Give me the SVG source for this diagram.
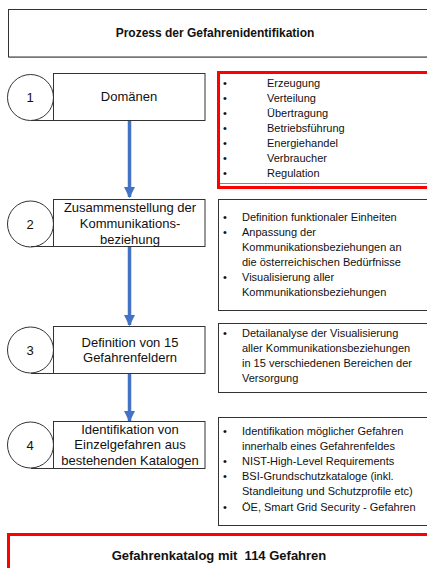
<svg xmlns="http://www.w3.org/2000/svg" width="427" height="568" viewBox="0 0 427 568">
<defs>
<marker id="ah" viewBox="0 0 10 10" refX="9" refY="5" markerWidth="3.2" markerHeight="3.2" markerUnits="strokeWidth" orient="auto">
<path d="M0,0 L10,5 L0,10 z" fill="#4472C4"/>
</marker>
<style>
text{font-family:"Liberation Sans",Arial,sans-serif;fill:#111}
.b{font-weight:bold;font-size:12px}
.n{font-size:13px}
.s{font-size:11px}
.box{fill:#fff;stroke:#333;stroke-width:1}
.red{fill:#fff;stroke:#f00;stroke-width:3}
.circ{fill:#fff;stroke:#333;stroke-width:1}
.arr{stroke:#4472C4;stroke-width:3.5;fill:none}
</style>
</defs>
<rect width="427" height="568" fill="#fff"/>
<g id="title">
<rect class="box" x="8.5" y="9.5" width="430" height="47.5"/>
<line x1="9" y1="57.5" x2="430" y2="57.5" stroke="#777" stroke-width="1"/>
<text class="b" x="215" y="37" text-anchor="middle">Prozess der Gefahrenidentifikation</text>
</g>
<g id="connectors">
<line class="arr" x1="129.5" y1="120" x2="129.5" y2="197" marker-end="url(#ah)"/>
<line class="arr" x1="129.5" y1="246" x2="129.5" y2="325" marker-end="url(#ah)"/>
<line class="arr" x1="129.5" y1="373" x2="129.5" y2="421" marker-end="url(#ah)"/>
</g>
<g id="step1">
<circle class="circ" cx="30.5" cy="97.5" r="23"/>
<line x1="31" y1="120.5" x2="54" y2="120.5" stroke="#333"/>
<rect class="box" x="53.5" y="73.5" width="151.5" height="47"/>
<text class="n" x="30" y="102" text-anchor="middle">1</text>
<text class="n" x="129" y="101" text-anchor="middle">Domänen</text>
</g>
<g id="list1">
<rect class="red" x="218.5" y="72.5" width="220" height="115"/>
<line x1="220" y1="183.5" x2="427" y2="183.5" stroke="#888"/>
<g class="s">
<text x="223" y="87">•</text><text x="267" y="87">Erzeugung</text>
<text x="223" y="102">•</text><text x="267" y="102">Verteilung</text>
<text x="223" y="117">•</text><text x="267" y="117">Übertragung</text>
<text x="223" y="132">•</text><text x="267" y="132">Betriebsführung</text>
<text x="223" y="147">•</text><text x="267" y="147">Energiehandel</text>
<text x="223" y="162">•</text><text x="267" y="162">Verbraucher</text>
<text x="223" y="177">•</text><text x="267" y="177">Regulation</text>
</g>
</g>
<g id="step2">
<circle class="circ" cx="30.5" cy="224" r="23"/>
<line x1="31" y1="246.5" x2="54" y2="246.5" stroke="#333"/>
<rect class="box" x="53.5" y="199.5" width="151.5" height="47"/>
<text class="n" x="30" y="228.5" text-anchor="middle">2</text>
<text class="n" x="130" y="211.5" text-anchor="middle">Zusammenstellung der</text>
<text class="n" x="130" y="227.5" text-anchor="middle">Kommunikations-</text>
<text class="n" x="130" y="243.5" text-anchor="middle">beziehung</text>
</g>
<g id="list2">
<rect class="box" x="218.5" y="199.5" width="220" height="111"/>
<g class="s">
<text x="223" y="221">•</text><text x="242" y="221">Definition funktionaler Einheiten</text>
<text x="223" y="236">•</text><text x="242" y="236">Anpassung der</text>
<text x="242" y="251">Kommunikationsbeziehungen an</text>
<text x="242" y="266">die österreichischen Bedürfnisse</text>
<text x="223" y="281">•</text><text x="242" y="281">Visualisierung aller</text>
<text x="242" y="296">Kommunikationsbeziehungen</text>
</g>
</g>
<g id="step3">
<circle class="circ" cx="30.5" cy="350" r="23"/>
<line x1="31" y1="373.5" x2="54" y2="373.5" stroke="#333"/>
<rect class="box" x="53.5" y="326.5" width="151.5" height="47"/>
<text class="n" x="30" y="354.5" text-anchor="middle">3</text>
<text class="n" x="130" y="346.5" text-anchor="middle">Definition von 15</text>
<text class="n" x="130" y="361.5" text-anchor="middle">Gefahrenfeldern</text>
</g>
<g id="list3">
<rect class="box" x="218.5" y="323.5" width="220" height="69"/>
<g class="s">
<text x="223" y="337">•</text><text x="242" y="337">Detailanalyse der Visualisierung</text>
<text x="242" y="352">aller Kommunikationsbeziehungen</text>
<text x="242" y="367">in 15 verschiedenen Bereichen der</text>
<text x="242" y="382">Versorgung</text>
</g>
</g>
<g id="step4">
<circle class="circ" cx="30.5" cy="445" r="23"/>
<line x1="31" y1="468.5" x2="54" y2="468.5" stroke="#333"/>
<rect class="box" x="53.5" y="421.5" width="151.5" height="47"/>
<text class="n" x="30" y="449.5" text-anchor="middle">4</text>
<text class="n" x="130" y="433.5" text-anchor="middle">Identifikation von</text>
<text class="n" x="130" y="448.5" text-anchor="middle">Einzelgefahren aus</text>
<text class="n" x="130" y="464.5" text-anchor="middle">bestehenden Katalogen</text>
</g>
<g id="list4">
<rect class="box" x="218.5" y="417.5" width="220" height="108"/>
<g class="s">
<text x="223" y="435">•</text><text x="242" y="435">Identifikation möglicher Gefahren</text>
<text x="242" y="450">innerhalb eines Gefahrenfeldes</text>
<text x="223" y="465">•</text><text x="242" y="465">NIST-High-Level Requirements</text>
<text x="223" y="480">•</text><text x="242" y="480">BSI-Grundschutzkataloge (inkl.</text>
<text x="242" y="495">Standleitung und Schutzprofile etc)</text>
<text x="223" y="511">•</text><text x="242" y="511">ÖE, Smart Grid Security - Gefahren</text>
</g>
</g>
<g id="result">
<rect class="red" x="8.5" y="534.5" width="430" height="45"/>
<text class="b" x="219" y="559.5" text-anchor="middle" style="font-size:13px">Gefahrenkatalog mit&#160; 114 Gefahren</text>
</g>
</svg>
